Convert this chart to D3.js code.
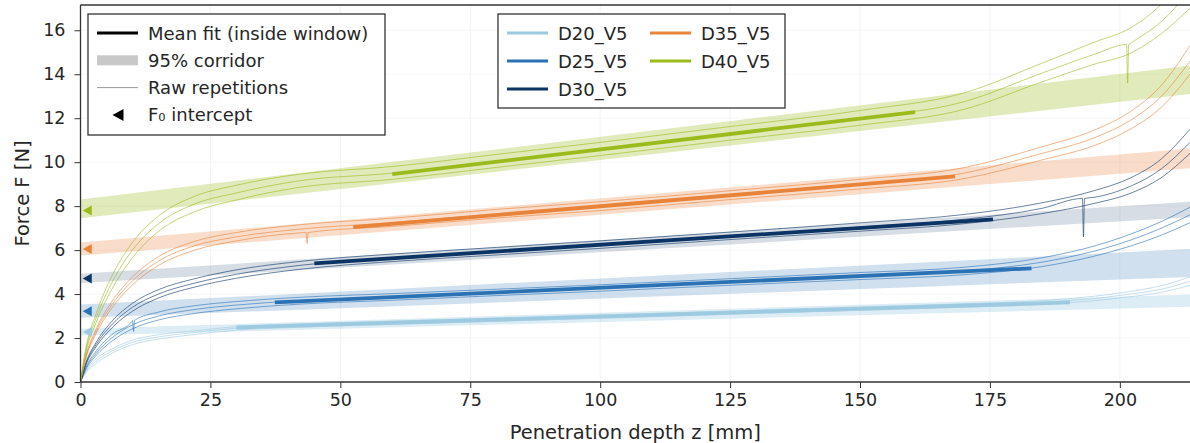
<!DOCTYPE html>
<html>
<head>
<meta charset="utf-8">
<script src="https://cdn.jsdelivr.net/npm/d3@7"></script>
<style>
  body { margin: 0; background: #fff; }
  text { font-family: "DejaVu Sans", sans-serif; fill: #262626; }
</style>
</head>
<body>
<svg id="chart" width="1190" height="443"></svg>
<script>
// ---------- data ----------
const seriesNames = ['D20_V5', 'D25_V5', 'D30_V5', 'D35_V5', 'D40_V5'];
const seriesColors = ['#9ecae1', '#2b72b4', '#0b3363', '#e8833a', '#9bbb1c'];
const corridorOpacity = [0.35, 0.22, 0.17, 0.27, 0.3];

// common depth grid of the raw repetitions [mm]
const zGrid = [0, 1, 3, 6, 10, 15, 22, 30, 42, 60, 80, 100, 125, 150, 170, 185, 195, 202, 208, 213.5];

// raw repetitions, force [N] on zGrid
const rawD20 = [
  [0, 0.50, 1.05, 1.50, 1.90, 2.15, 2.33, 2.52, 2.64, 2.77, 2.91, 3.05, 3.23, 3.41, 3.56, 3.70, 3.90, 4.12, 4.38, 4.78],
  [0, 0.45, 0.95, 1.40, 1.80, 2.05, 2.25, 2.45, 2.57, 2.70, 2.84, 2.98, 3.16, 3.34, 3.48, 3.62, 3.80, 4.00, 4.22, 4.58],
  [0, 0.40, 0.85, 1.30, 1.70, 1.95, 2.16, 2.36, 2.49, 2.62, 2.76, 2.90, 3.08, 3.26, 3.40, 3.53, 3.70, 3.88, 4.08, 4.40]
];
const rawD25 = [
  [0, 0.65, 1.40, 2.15, 2.78, 3.18, 3.47, 3.66, 3.85, 4.02, 4.22, 4.42, 4.70, 4.98, 5.22, 5.65, 6.18, 6.72, 7.30, 7.95],
  [0, 0.60, 1.30, 2.00, 2.60, 3.00, 3.30, 3.50, 3.70, 3.88, 4.08, 4.28, 4.55, 4.82, 5.05, 5.45, 5.95, 6.45, 7.00, 7.60],
  [0, 0.55, 1.20, 1.85, 2.42, 2.82, 3.12, 3.33, 3.54, 3.72, 3.93, 4.13, 4.40, 4.66, 4.88, 5.25, 5.72, 6.18, 6.68, 7.25]
];
const rawD30 = [
  [0, 0.85, 1.80, 2.75, 3.58, 4.20, 4.70, 5.10, 5.48, 5.82, 6.12, 6.42, 6.82, 7.24, 7.62, 8.15, 8.70, 9.28, 10.15, 11.50],
  [0, 0.80, 1.70, 2.60, 3.40, 4.00, 4.50, 4.90, 5.30, 5.65, 5.95, 6.25, 6.65, 7.05, 7.40, 7.90, 8.40, 8.90, 9.70, 10.90],
  [0, 0.75, 1.60, 2.45, 3.22, 3.82, 4.32, 4.72, 5.12, 5.48, 5.78, 6.08, 6.48, 6.86, 7.20, 7.66, 8.12, 8.58, 9.30, 10.40]
];
const rawD35 = [
  [0, 1.15, 2.40, 3.65, 4.78, 5.70, 6.40, 6.80, 7.15, 7.45, 7.85, 8.20, 8.70, 9.22, 9.75, 10.70, 11.45, 12.30, 13.50, 15.30],
  [0, 1.10, 2.30, 3.50, 4.60, 5.50, 6.20, 6.60, 6.95, 7.25, 7.65, 8.00, 8.50, 9.00, 9.50, 10.40, 11.10, 11.90, 13.00, 14.60],
  [0, 1.05, 2.20, 3.35, 4.42, 5.30, 6.00, 6.42, 6.78, 7.08, 7.46, 7.80, 8.30, 8.78, 9.25, 10.10, 10.75, 11.50, 12.50, 14.00]
];
const rawD40 = [
  [0, 1.50, 3.10, 4.80, 6.35, 7.55, 8.45, 8.95, 9.45, 9.80, 10.35, 10.90, 11.62, 12.35, 13.15, 14.50, 15.45, 16.10, 17.20, 18.80],
  [0, 1.40, 2.90, 4.50, 6.00, 7.20, 8.10, 8.60, 9.15, 9.50, 10.05, 10.60, 11.30, 12.00, 12.75, 14.05, 14.90, 15.40, 16.40, 17.80],
  [0, 1.30, 2.70, 4.20, 5.65, 6.85, 7.75, 8.28, 8.85, 9.22, 9.76, 10.30, 11.00, 11.68, 12.40, 13.65, 14.45, 14.95, 15.85, 17.00]
];
const rawSeries = [rawD20, rawD25, rawD30, rawD35, rawD40];

// short drops in single repetitions: [series, repetition, z, force before, force at bottom]
const spikes = [
  [1, 0, 10.2, 2.80, 2.30],
  [3, 2, 43.6, 6.80, 6.30],
  [2, 1, 193.0, 8.35, 6.60],
  [4, 1, 201.5, 15.35, 13.60]
];

// mean fit inside window: [z start, F start, z end, F end]
const fitLines = [
  [30.0, 2.48, 190.4, 3.62],
  [37.4, 3.62, 183.0, 5.17],
  [45.0, 5.40, 175.6, 7.40],
  [52.5, 7.05, 168.3, 9.35],
  [60.0, 9.46, 160.6, 12.28]
];
// F0 intercepts [N]
const f0Values = [2.27, 3.22, 4.71, 6.05, 7.80];
// 95% corridor: [lo at z=0, hi at z=0, lo at end, hi at end]
const corridors = [
  [2.12, 2.42, 3.42, 3.98],
  [2.92, 3.52, 4.78, 6.05],
  [4.50, 4.92, 7.50, 8.20],
  [5.75, 6.35, 9.72, 10.62],
  [7.45, 8.30, 13.10, 14.40]
];

const xTicks = [0, 25, 50, 75, 100, 125, 150, 175, 200];
const yTicks = [0, 2, 4, 6, 8, 10, 12, 14, 16];
const zMax = 213.5;

// ---------- layout ----------
const mLeft = 80.5, mRight = 1190, mTop = 5, mBottom = 382;

const svg = d3.select('#chart');
const x = d3.scaleLinear().domain([0, zMax]).range([mLeft, mRight]);
const y = d3.scaleLinear().domain([0, 17.15]).range([mBottom, mTop]);

svg.append('defs').append('clipPath').attr('id', 'plotClip')
  .append('rect').attr('x', mLeft).attr('y', mTop).attr('width', mRight - mLeft).attr('height', mBottom - mTop);

// grid
const grid = svg.append('g');
grid.selectAll('.vg').data(xTicks).enter().append('line')
  .attr('x1', d => x(d)).attr('x2', d => x(d)).attr('y1', mTop).attr('y2', mBottom)
  .attr('stroke', '#f0f0f0').attr('stroke-width', 0.8);
grid.selectAll('.hg').data(yTicks).enter().append('line')
  .attr('x1', mLeft).attr('x2', mRight).attr('y1', d => y(d)).attr('y2', d => y(d))
  .attr('stroke', '#f4f4f4').attr('stroke-width', 0.8);

const plot = svg.append('g').attr('clip-path', 'url(#plotClip)');

// corridors
const area = d3.area().x(d => x(d[0])).y0(d => y(d[1])).y1(d => y(d[2]));
plot.append('g').selectAll('path').data(corridors).enter().append('path')
  .attr('d', c => area([[0, c[0], c[1]], [zMax, c[2], c[3]]]))
  .attr('fill', (c, i) => seriesColors[i])
  .attr('fill-opacity', (c, i) => corridorOpacity[i]);

// raw repetitions
const rawLine = d3.line().x(d => x(d[0])).y(d => y(d[1])).curve(d3.curveMonotoneX);
rawSeries.forEach((reps, si) => {
  reps.forEach((rep, ri) => {
    let pts = zGrid.map((z, i) => [z, rep[i]]);
    spikes.filter(s => s[0] === si && s[1] === ri).forEach(s => {
      pts.push([s[2] - 0.2, s[3]], [s[2], s[4]], [s[2] + 0.2, s[3]]);
    });
    pts.sort((a, b) => a[0] - b[0]);
    plot.append('path')
      .attr('d', rawLine(pts))
      .attr('fill', 'none')
      .attr('stroke', seriesColors[si])
      .attr('stroke-opacity', 0.6)
      .attr('stroke-width', 1);
  });
});

// mean fits
plot.append('g').selectAll('line').data(fitLines).enter().append('line')
  .attr('x1', d => x(d[0])).attr('y1', d => y(d[1]))
  .attr('x2', d => x(d[2])).attr('y2', d => y(d[3]))
  .attr('stroke', (d, i) => seriesColors[i])
  .attr('stroke-width', 3.8)
  .attr('stroke-linecap', 'butt');

// F0 markers
plot.append('g').selectAll('path').data(f0Values).enter().append('path')
  .attr('d', 'M-4.5,0L4.5,-5L4.5,5Z')
  .attr('transform', d => 'translate(' + x(1.3) + ',' + y(d) + ')')
  .attr('fill', (d, i) => seriesColors[i]);

// axes
const xAxis = svg.append('g').attr('transform', 'translate(0,' + mBottom + ')')
  .call(d3.axisBottom(x).tickValues(xTicks).tickSize(6).tickPadding(6));
const yAxis = svg.append('g').attr('transform', 'translate(' + mLeft + ',0)')
  .call(d3.axisLeft(y).tickValues(yTicks).tickSize(6).tickPadding(9));
[xAxis, yAxis].forEach(a => {
  a.select('.domain').remove();
  a.selectAll('line').attr('stroke', '#333');
  a.selectAll('text').style('font-size', '17.5px').attr('fill', '#262626');
});

// spines
svg.append('line').attr('x1', mLeft).attr('x2', mRight).attr('y1', mBottom).attr('y2', mBottom).attr('stroke', '#333').attr('stroke-width', 1.3);
svg.append('line').attr('x1', mLeft).attr('x2', mRight).attr('y1', mTop).attr('y2', mTop).attr('stroke', '#333').attr('stroke-width', 1.3);
svg.append('line').attr('x1', mLeft).attr('x2', mLeft).attr('y1', mTop).attr('y2', mBottom).attr('stroke', '#333').attr('stroke-width', 1.3);

// axis labels
svg.append('text').attr('x', (mLeft + mRight) / 2).attr('y', 439).attr('text-anchor', 'middle')
  .style('font-size', '19.5px').text('Penetration depth z [mm]');
svg.append('text').attr('transform', 'translate(29,' + ((mTop + mBottom) / 2) + ') rotate(-90)')
  .attr('text-anchor', 'middle').style('font-size', '19.5px').text('Force F [N]');

// legend 1: element types
const leg1 = svg.append('g');
leg1.append('rect').attr('x', 88).attr('y', 14).attr('width', 297).attr('height', 121)
  .attr('fill', '#fff').attr('fill-opacity', 0.9).attr('stroke', '#333').attr('stroke-width', 1.3);
const leg1Items = ['Mean fit (inside window)', '95% corridor', 'Raw repetitions', 'F\u2080 intercept'];
leg1Items.forEach((t, i) => {
  const cy = 33 + i * 27.3;
  if (i === 0) leg1.append('line').attr('x1', 97).attr('x2', 138).attr('y1', cy).attr('y2', cy).attr('stroke', '#000').attr('stroke-width', 3.2);
  if (i === 1) leg1.append('rect').attr('x', 97).attr('y', cy - 5).attr('width', 41).attr('height', 10).attr('fill', '#c8c8c8');
  if (i === 2) leg1.append('line').attr('x1', 97).attr('x2', 138).attr('y1', cy).attr('y2', cy).attr('stroke', '#999').attr('stroke-width', 1);
  if (i === 3) leg1.append('path').attr('d', 'M-5.5,0L5.5,-6L5.5,6Z').attr('transform', 'translate(118,' + cy + ')').attr('fill', '#000');
  leg1.append('text').attr('x', 148).attr('y', cy + 6.5).style('font-size', '18px').text(t);
});

// legend 2: series
const leg2 = svg.append('g');
leg2.append('rect').attr('x', 498).attr('y', 14).attr('width', 287).attr('height', 94)
  .attr('fill', '#fff').attr('fill-opacity', 0.9).attr('stroke', '#333').attr('stroke-width', 1.3);
seriesNames.forEach((name, i) => {
  const col = i < 3 ? 0 : 1;
  const row = i < 3 ? i : i - 3;
  const lx = col === 0 ? 507 : 650;
  const cy = 33 + row * 28;
  leg2.append('line').attr('x1', lx).attr('x2', lx + 41).attr('y1', cy).attr('y2', cy)
    .attr('stroke', seriesColors[i]).attr('stroke-width', 3.2);
  leg2.append('text').attr('x', lx + 51).attr('y', cy + 6.5).style('font-size', '18px').text(name);
});
</script>
</body>
</html>
